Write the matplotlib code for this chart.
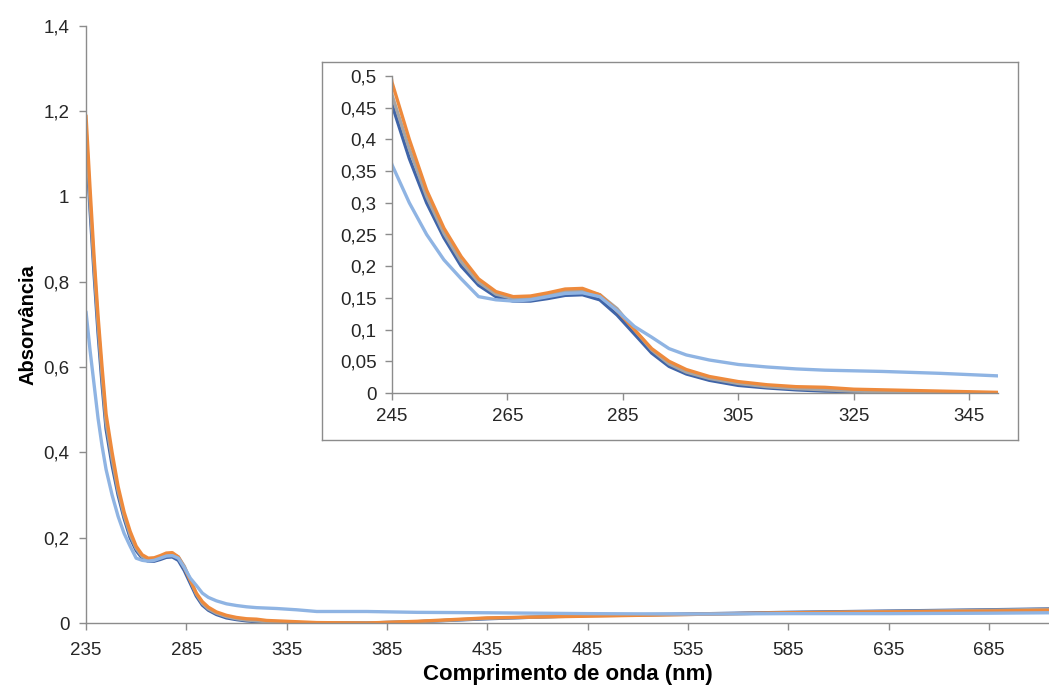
"""UV-Vis absorption spectra with an inset zoom on the 245-350 nm region."""

import matplotlib

matplotlib.use("Agg")
import matplotlib.pyplot as plt
from matplotlib.ticker import FuncFormatter, MultipleLocator

plt.rcParams["font.family"] = ["Liberation Sans", "DejaVu Sans"]

# wavelengths (nm) and absorbance
wavelength = [235, 237, 239, 241, 243, 245, 248, 251, 254, 257, 260, 263, 266, 269,
              272, 275, 278, 281, 284, 287, 290, 293, 296, 300, 305, 310, 315, 320,
              325, 330, 340, 350, 375, 400, 435, 485, 535, 585, 635, 685, 715]

abs_dark = [1.13, 0.97, 0.82, 0.68, 0.56, 0.455, 0.37, 0.30, 0.245, 0.20, 0.17, 0.152,
            0.145, 0.145, 0.149, 0.154, 0.155, 0.147, 0.123, 0.093, 0.063, 0.042, 0.030,
            0.020, 0.012, 0.008, 0.005, 0.003, 0.002, 0.001, 0.0, 0.0, 0.0, 0.003, 0.010,
            0.018, 0.021, 0.025, 0.028, 0.031, 0.033]

abs_gray = [1.16, 0.99, 0.84, 0.70, 0.58, 0.47, 0.385, 0.31, 0.252, 0.207, 0.175, 0.156,
            0.149, 0.150, 0.154, 0.160, 0.162, 0.155, 0.133, 0.100, 0.068, 0.046, 0.033,
            0.023, 0.015, 0.010, 0.007, 0.005, 0.003, 0.002, 0.001, 0.0, 0.0, 0.003, 0.011,
            0.017, 0.020, 0.024, 0.027, 0.030, 0.032]

abs_orange = [1.19, 1.02, 0.86, 0.72, 0.60, 0.49, 0.40, 0.32, 0.26, 0.215, 0.18, 0.16,
              0.152, 0.153, 0.158, 0.164, 0.165, 0.155, 0.130, 0.100, 0.070, 0.050, 0.037,
              0.026, 0.018, 0.013, 0.010, 0.009, 0.006, 0.005, 0.003, 0.001, 0.0, 0.004,
              0.012, 0.016, 0.020, 0.024, 0.026, 0.028, 0.030]

abs_light = [0.73, 0.64, 0.56, 0.48, 0.415, 0.36, 0.30, 0.25, 0.21, 0.18, 0.152, 0.147,
             0.145, 0.147, 0.152, 0.157, 0.158, 0.152, 0.130, 0.105, 0.088, 0.070, 0.060,
             0.052, 0.045, 0.041, 0.038, 0.036, 0.035, 0.034, 0.031, 0.027, 0.027, 0.025,
             0.024, 0.022, 0.021, 0.022, 0.022, 0.023, 0.024]

series = [
    (abs_dark, "#3F64A8"),
    (abs_gray, "#A5A5A5"),
    (abs_orange, "#EE8A3C"),
    (abs_light, "#8FB4E3"),
]

AXIS_GRAY = "#8C8C8C"


def comma_fmt(v, _pos):
    s = f"{v:.2f}".rstrip("0").rstrip(".")
    return s.replace(".", ",")


def style_axes(ax, xpad, ypad):
    for side in ("top", "right"):
        ax.spines[side].set_visible(False)
    for side in ("left", "bottom"):
        ax.spines[side].set_color(AXIS_GRAY)
        ax.spines[side].set_linewidth(1.0)
    ax.tick_params(direction="out", length=5, width=1.0, color=AXIS_GRAY,
                   labelsize=13.5, labelcolor="#262626")
    ax.tick_params(axis="x", pad=xpad)
    ax.tick_params(axis="y", pad=ypad)
    ax.yaxis.set_major_formatter(FuncFormatter(comma_fmt))


fig = plt.figure(figsize=(10.49, 6.91), dpi=100)

# main chart
ax = fig.add_axes([0.082, 0.0984, 0.918, 0.864])
for ys, c in series:
    ax.plot(wavelength, ys, color=c, lw=2.4, solid_capstyle="round")
ax.set_xlim(235, 715)
ax.set_ylim(0, 1.4)
ax.set_xticks(range(235, 716, 50))
ax.yaxis.set_major_locator(MultipleLocator(0.2))
style_axes(ax, xpad=9, ypad=7)
ax.set_ylabel("Absorvância", fontsize=14.5, fontweight="bold", labelpad=4)
ax.set_xlabel("Comprimento de onda (nm)", fontsize=16, fontweight="bold", labelpad=3)

# inset frame
frame = fig.add_axes([322 / 1049, 1 - 440 / 691, (1018 - 322) / 1049, (440 - 62) / 691])
frame.set_xticks([])
frame.set_yticks([])
frame.patch.set_facecolor("white")
for sp in frame.spines.values():
    sp.set_color(AXIS_GRAY)
    sp.set_linewidth(1.0)

# inset chart
ins = fig.add_axes([392 / 1049, 1 - 393 / 691, (998 - 392) / 1049, (393 - 76) / 691])
ins.patch.set_alpha(0)
for ys, c in series:
    ins.plot(wavelength, ys, color=c, lw=2.4, solid_capstyle="round")
ins.set_xlim(245, 350)
ins.set_ylim(0, 0.5)
ins.set_xticks(range(245, 350, 20))
ins.yaxis.set_major_locator(MultipleLocator(0.05))
style_axes(ins, xpad=6, ypad=6)

fig.savefig("out.png", dpi=100)
